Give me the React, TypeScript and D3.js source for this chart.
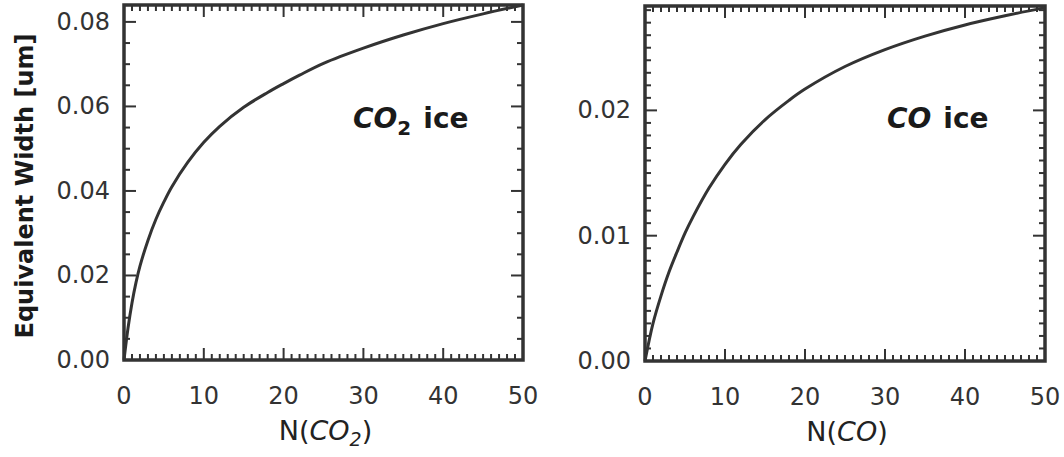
import React from 'react';
import * as d3 from 'd3';

// column density N (arbitrary units) and equivalent width [um]
const nCO2 = [0, 0.5, 1, 1.5, 2, 3, 4, 5, 6, 8, 10, 12, 15, 18, 20, 22, 25, 30, 35, 40, 45, 50];
const ewCO2 = [0, 0.0075, 0.0135, 0.0183, 0.0222, 0.0283, 0.0333, 0.0374, 0.041, 0.0468, 0.0515, 0.0553, 0.0598, 0.0633, 0.0654, 0.0674, 0.0702, 0.0738, 0.0769, 0.0796, 0.0819, 0.084];

const nCO = [0, 1, 2, 3, 4, 5, 6, 8, 10, 12, 15, 18, 20, 25, 30, 35, 40, 45, 50];
const ewCO = [0, 0.003, 0.0052, 0.0071, 0.0087, 0.0102, 0.0115, 0.0138, 0.0157, 0.0173, 0.01925, 0.0208, 0.0217, 0.0235, 0.02485, 0.02593, 0.02682, 0.02755, 0.0282];

const xTicks = [0, 10, 20, 30, 40, 50];
const yTicksCO2 = [0, 0.02, 0.04, 0.06, 0.08];
const yTicksCO = [0, 0.01, 0.02];

const INK = '#333';
const FONT = '"DejaVu Sans", sans-serif';

function Panel({ xs, ys, yMax, yTicks, yMinorStep, left, right, top, bottom, sub, labelX }) {
    const x = d3.scaleLinear([0, 50], [left, right]);
    const y = d3.scaleLinear([0, yMax], [bottom, top]);

    const line = d3.line((d, i) => x(xs[i]), (d) => y(d)).curve(d3.curveCatmullRom.alpha(0.5));

    const xMinor = d3.range(0, 50.001, 1);
    const yMinor = d3.range(0, yMax + 1e-9, yMinorStep);
    const major = 12;
    const minor = 6;

    return (
        <g>
            <g stroke={INK} strokeWidth="2">
                {xMinor.map((v, i) => {
                    const len = i % 10 === 0 ? major : minor;
                    return (
                        <g key={'x' + i}>
                            <line x1={x(v)} x2={x(v)} y1={bottom} y2={bottom - len} />
                            <line x1={x(v)} x2={x(v)} y1={top} y2={top + len} />
                        </g>
                    );
                })}
                {yMinor.map((v, i) => {
                    const isMajor = yTicks.some((t) => Math.abs(t - v) < yMinorStep / 10);
                    const len = isMajor ? major : minor;
                    return (
                        <g key={'y' + i}>
                            <line x1={left} x2={left + len} y1={y(v)} y2={y(v)} />
                            <line x1={right} x2={right - len} y1={y(v)} y2={y(v)} />
                        </g>
                    );
                })}
            </g>
            <rect x={left} y={top} width={right - left} height={bottom - top} fill="none" stroke={INK} strokeWidth="3.5" />
            <path d={line(ys)} fill="none" stroke={INK} strokeWidth="3" />

            <g fill={INK} fontFamily={FONT} fontSize="24">
                {xTicks.map((t) => (
                    <text key={t} x={x(t)} y={bottom + 44} textAnchor="middle">{t}</text>
                ))}
                {yTicks.map((t) => (
                    <text key={t} x={left - 14} y={y(t) + 8} textAnchor="end">{t.toFixed(2)}</text>
                ))}
            </g>
            <text x={(left + right) / 2 + 2} y={bottom + 80} textAnchor="middle" fill="#222" fontFamily={FONT} fontSize="27">
                N(<tspan fontStyle="italic">CO</tspan>
                {sub ? <tspan fontStyle="italic" fontSize="19" dy="6">2</tspan> : null}
                <tspan dy={sub ? -6 : 0}>)</tspan>
            </text>

            <text x={labelX} y={128} fill="#1a1a1a" fontFamily={FONT} fontSize="28" fontWeight="bold">
                <tspan fontStyle="italic">CO</tspan>
                {sub ? <tspan fontSize="20" dy="7">2</tspan> : null}
                <tspan dy={sub ? -7 : 0} dx="12">ice</tspan>
            </text>
        </g>
    );
}

export default function App() {
    return (
        <svg width={1064} height={457} style={{ position: 'fixed', left: 0, top: 0, background: '#fff' }}>
            <rect width={1064} height={457} fill="#fff" />
            <Panel xs={nCO2} ys={ewCO2} yMax={0.084} yTicks={yTicksCO2} yMinorStep={0.005}
                left={124} right={523} top={5} bottom={360} sub={true} labelX={353} />
            <Panel xs={nCO} ys={ewCO} yMax={0.02833} yTicks={yTicksCO} yMinorStep={0.001}
                left={645} right={1045} top={6} bottom={361} sub={false} labelX={887} />
            <text transform="translate(33,186) rotate(-90)" textAnchor="middle" fill="#1a1a1a"
                fontFamily={FONT} fontSize="24" fontWeight="bold">
                Equivalent Width [um]
            </text>
        </svg>
    );
}
